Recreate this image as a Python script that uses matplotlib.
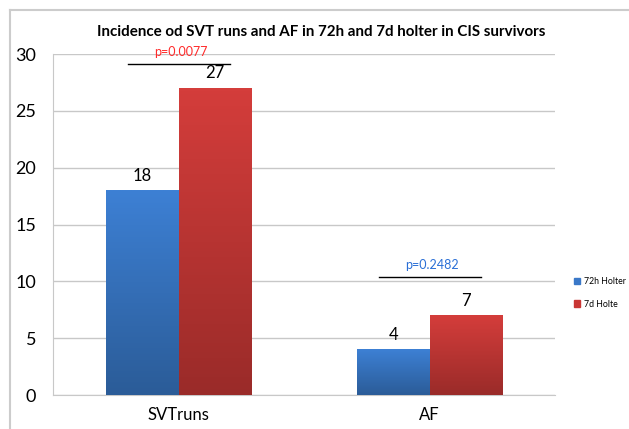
import numpy as np
import matplotlib.pyplot as plt
from matplotlib.lines import Line2D
from matplotlib.colors import LinearSegmentedColormap

plt.rcParams['font.family'] = ['Lato', 'DejaVu Sans']

# data
categories = ['SVTruns', 'AF']
holter_72h = [18, 4]
holter_7d = [27, 7]
series_names = ['72h Holter', '7d Holte']
p_values = ['p=0.0077', 'p=0.2482']
p_colors = ['#ff2a2a', '#2a6fd6']
p_line_y = [29.1, 10.4]

fig = plt.figure(figsize=(6.29, 4.29), dpi=100)
ax = fig.add_axes([53 / 629, 34 / 429, 502 / 629, 341 / 429])

x = np.arange(len(categories))
w = 0.287
b1 = ax.bar(x - w / 2, holter_72h, w, color='#3a78c8', label=series_names[0], zorder=2)
b2 = ax.bar(x + w / 2, holter_7d, w, color='#c93634', label=series_names[1], zorder=2)

# gradient fill for each bar
grad_maps = [LinearSegmentedColormap.from_list('b', ['#2b5c98', '#3d80d4']),
             LinearSegmentedColormap.from_list('r', ['#9a2b29', '#d43d3b'])]
for bars, cmap in zip([b1, b2], grad_maps):
    for bar in bars:
        bx, by = bar.get_x(), bar.get_y()
        bw, bh = bar.get_width(), bar.get_height()
        grad = np.linspace(0, 1, 100).reshape(-1, 1)
        ax.imshow(grad, extent=[bx, bx + bw, by, by + bh], origin='lower',
                  cmap=cmap, aspect='auto', zorder=3)
        bar.set_alpha(0)
        ax.text(bx + bw / 2, bh + 0.6, str(int(bh)), ha='center', va='bottom',
                fontsize=12, zorder=4)

# p-value brackets
for i, (p, c, ly) in enumerate(zip(p_values, p_colors, p_line_y)):
    ax.plot([x[i] - 0.2, x[i] + 0.205], [ly, ly], color='black',
            lw=1, clip_on=False, zorder=4)
    ax.text(x[i] + 0.01, ly + 0.55, p, color=c, ha='center', va='bottom',
            fontsize=9, clip_on=False, zorder=4)

ax.set_xlim(-0.5, 1.5)
ax.set_ylim(0, 30)
ax.set_yticks(range(0, 31, 5))
ax.set_xticks(x)
ax.set_xticklabels(categories)
ax.tick_params(axis='y', length=0, labelsize=13, pad=12)
ax.tick_params(axis='x', length=0, labelsize=12, pad=9)
ax.yaxis.grid(True, color='#c8c8c8', lw=1, zorder=0)
for s in ['top', 'right']:
    ax.spines[s].set_visible(False)
ax.spines['left'].set_color('#c8c8c8')
ax.spines['bottom'].set_color('#c8c8c8')

fig.text(321 / 629, 1 - 32 / 429,
         'Incidence od SVT runs and AF in 72h and 7d holter in CIS survivors',
         fontsize=10.9, fontweight='bold', ha='center', va='center')

handles = [plt.Rectangle((0, 0), 1, 1, color='#3a78c8'),
           plt.Rectangle((0, 0), 1, 1, color='#c93634')]
fig.legend(handles, series_names, loc='center left', bbox_to_anchor=(574 / 629, 1 - 293 / 429),
           frameon=False, fontsize=6.3, handlelength=0.7, handleheight=0.7,
           labelspacing=1.5, handletextpad=0.4, borderaxespad=0, borderpad=0)

# outer chart frame
fig.add_artist(Line2D([10 / 629, 10 / 629], [0, 1 - 10 / 429], color='#cccccc', lw=1.5))
fig.add_artist(Line2D([10 / 629, 1], [1 - 10 / 429, 1 - 10 / 429], color='#cccccc', lw=1.5))

fig.savefig('out.png', dpi=100)
